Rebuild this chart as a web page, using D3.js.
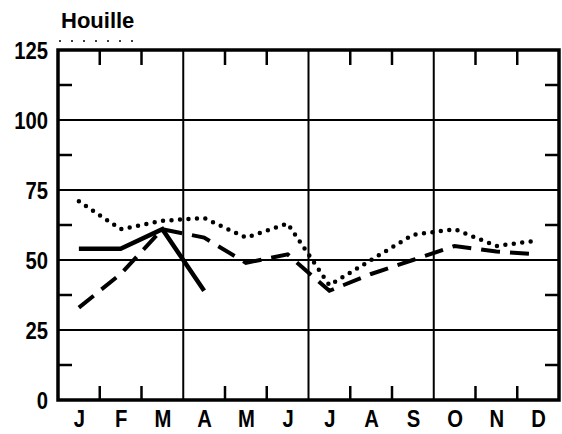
<!DOCTYPE html>
<html><head><meta charset="utf-8">
<script src="https://cdn.jsdelivr.net/npm/d3@7"></script>
<style>
html,body{margin:0;padding:0;background:#fff;}
svg{display:block;}
text{font-family:"Liberation Sans",Arial,sans-serif;font-weight:bold;fill:#000;}
</style></head>
<body>
<script>
const months = ["J","F","M","A","M","J","J","A","S","O","N","D"];
const yTicks = [0,25,50,75,100,125];
const dotted = [71,61,64,65,58,63,41,50,59,61,55,57];
const dashed = [33,45,61,58,49,52,39,45,50,55,53,52];
const solid  = [54,54,61,39,null,null,null,null,null,null,null,null];
const title = "Houille";

const W=562,H=434;
const m={left:58,right:3,top:50,bottom:34};
const svg=d3.select("body").append("svg").attr("width",W).attr("height",H);
const x=d3.scaleLinear().domain([0,12]).range([m.left,W-m.right]);
const y=d3.scaleLinear().domain([0,125]).range([H-m.bottom,m.top]);

// grid
const g=svg.append("g");
[25,50,75,100].forEach(v=>g.append("line").attr("x1",x(0)).attr("x2",x(12)).attr("y1",y(v)).attr("y2",y(v)).attr("stroke","#000").attr("stroke-width",2));
[3,6,9].forEach(i=>g.append("line").attr("x1",x(i)).attr("x2",x(i)).attr("y1",y(0)).attr("y2",y(125)).attr("stroke","#000").attr("stroke-width",2));
// minor ticks
[1,2,4,5,7,8,10,11].forEach(i=>{
  g.append("line").attr("x1",x(i)).attr("x2",x(i)).attr("y1",y(125)).attr("y2",y(125)+15).attr("stroke","#000").attr("stroke-width",2.5);
  g.append("line").attr("x1",x(i)).attr("x2",x(i)).attr("y1",y(0)).attr("y2",y(0)-14).attr("stroke","#000").attr("stroke-width",2.5);
});
[12.5,37.5,62.5,87.5,112.5].forEach(v=>{
  g.append("line").attr("x1",x(0)).attr("x2",x(0)+14).attr("y1",y(v)).attr("y2",y(v)).attr("stroke","#000").attr("stroke-width",2.5);
  g.append("line").attr("x1",x(12)).attr("x2",x(12)-14).attr("y1",y(v)).attr("y2",y(v)).attr("stroke","#000").attr("stroke-width",2.5);
});
// frame
g.append("rect").attr("x",x(0)).attr("y",y(125)).attr("width",x(12)-x(0)).attr("height",y(0)-y(125)).attr("fill","none").attr("stroke","#000").attr("stroke-width",3.5);

// axes labels
const ya=svg.append("g").attr("transform",`translate(${x(0)-10},0)`).call(d3.axisLeft(y).tickValues(yTicks).tickSize(0).tickPadding(0));
ya.select(".domain").remove();
ya.selectAll("text").style("font-size","23px").attr("dy","0.36em").attr("transform","scale(0.88,1)").style("font-family","'Liberation Sans',Arial,sans-serif");
const xa=svg.append("g").attr("transform",`translate(0,${y(0)+10})`).call(d3.axisBottom(x).tickValues(d3.range(12).map(i=>i+0.5)).tickFormat((d,i)=>months[i]).tickSize(0).tickPadding(0));
xa.select(".domain").remove();
xa.selectAll("text").style("font-size","23px").attr("dy","0.72em").attr("transform","scale(0.88,1)").style("font-family","'Liberation Sans',Arial,sans-serif");

// title
svg.append("text").attr("x",61).attr("y",28).style("font-size","22px").text(title);
svg.append("line").attr("x1",59).attr("x2",135).attr("y1",41).attr("y2",41).attr("stroke","#000").attr("stroke-width",1.5).attr("stroke-dasharray","2,10");

// lines
const line=d3.line().defined(d=>d!=null).x((d,i)=>x(i+0.5)).y(d=>y(d));
svg.append("path").datum(dotted).attr("d",line).attr("fill","none").attr("stroke","#000").attr("stroke-width",4.5).attr("stroke-linecap","round").attr("stroke-dasharray","0,8.5");
svg.append("path").datum(dashed).attr("d",line).attr("fill","none").attr("stroke","#000").attr("stroke-width",4).attr("stroke-dasharray","19,10");
svg.append("path").datum(solid).attr("d",line).attr("fill","none").attr("stroke","#000").attr("stroke-width",4.5).attr("stroke-linejoin","miter");
</script>
</body></html>
